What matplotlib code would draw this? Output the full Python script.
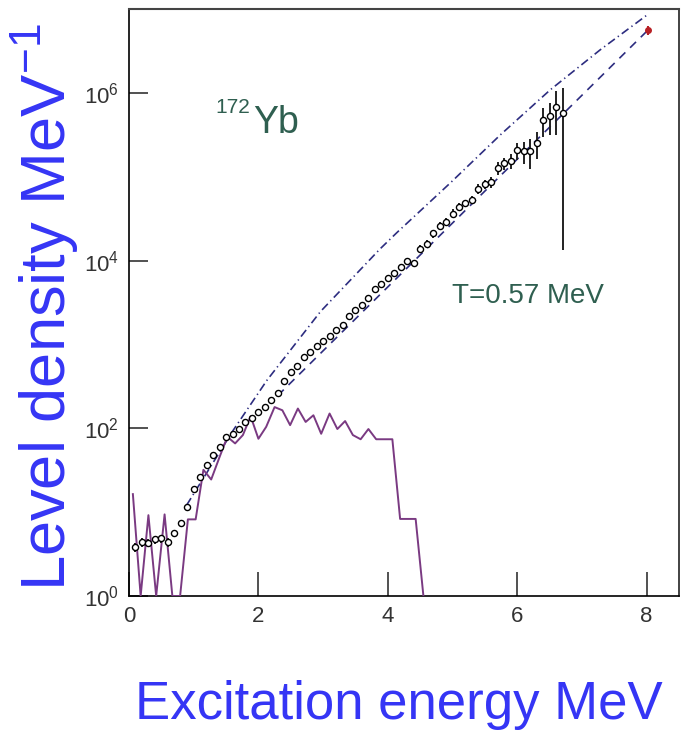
import numpy as np
import matplotlib
matplotlib.use("Agg")
import matplotlib.pyplot as plt
from matplotlib.ticker import NullLocator, FixedLocator, FixedFormatter

plt.rcParams['font.family'] = ['Liberation Sans', 'DejaVu Sans']
plt.rcParams['mathtext.fontset'] = 'custom'
plt.rcParams['mathtext.rm'] = 'Liberation Sans'
plt.rcParams['mathtext.it'] = 'Liberation Sans:italic'
plt.rcParams['mathtext.bf'] = 'Liberation Sans:bold'

# Oslo-method level density of 172Yb (MeV^-1)
energy = [0.1, 0.2, 0.3, 0.4, 0.5, 0.6, 0.7, 0.8, 0.9, 1.0,
          1.1, 1.2, 1.3, 1.4, 1.5, 1.6, 1.7, 1.8, 1.9, 2.0,
          2.1, 2.2, 2.3, 2.4, 2.5, 2.6, 2.7, 2.8, 2.9, 3.0,
          3.1, 3.2, 3.3, 3.4, 3.5, 3.6, 3.7, 3.8, 3.9, 4.0,
          4.1, 4.2, 4.3, 4.4, 4.5, 4.6, 4.7, 4.8, 4.9, 5.0,
          5.1, 5.2, 5.3, 5.4, 5.5, 5.6, 5.7, 5.8, 5.9, 6.0,
          6.1, 6.2, 6.3, 6.4, 6.5, 6.6, 6.7]
rho = [3.8, 4.36, 4.31, 4.73, 4.86, 4.4, 5.67, 7.33, 11.5, 18.8,
       26.1, 36.0, 48.6, 59.4, 78.8, 86.5, 98.0, 118.0, 134.0, 158.0,
       179.0, 215.0, 261.0, 366.0, 464.0, 558.0, 714.0, 810.0, 955.0, 1107.0,
       1245.0, 1480.0, 1683.0, 2154.0, 2541.0, 2913.0, 3559.0, 4603.0, 5323.0, 6277.0,
       7050.0, 8486.0, 10000.0, 9290.0, 13780.0, 15930.0, 21130.0, 26120.0, 29130.0, 36300.0,
       43970.0, 48110.0, 53230.0, 71940.0, 80990.0, 87100.0, 127000.0, 143900.0, 155000.0, 208000.0,
       202000.0, 200000.0, 254000.0, 477000.0, 537000.0, 681000.0, 583000.0]
rho_relerr = [0.12, 0.12, 0.12, 0.11, 0.11, 0.12, 0.09, 0.08, 0.07, 0.06,
              0.05, 0.05, 0.05, 0.05, 0.05, 0.05, 0.05, 0.05, 0.05, 0.05,
              0.05, 0.05, 0.05, 0.05, 0.05, 0.05, 0.05, 0.05, 0.05, 0.05,
              0.05, 0.05, 0.05, 0.05, 0.05, 0.05, 0.06, 0.06, 0.08, 0.08,
              0.08, 0.08, 0.08, 0.08, 0.10, 0.10, 0.11, 0.11, 0.12, 0.12,
              0.12, 0.10, 0.10, 0.13, 0.13, 0.15, 0.17, 0.16, 0.20, 0.23,
              0.30, 0.39, 0.36, 0.37, 0.42, 0.54, 0.977]

# discrete known levels, counted in 120 keV bins (MeV^-1)
level_energy = [0.06, 0.18, 0.30, 0.42, 0.55, 0.67, 0.79, 0.91, 1.03, 1.15,
                1.27, 1.40, 1.52, 1.64, 1.76, 1.88, 2.00, 2.12, 2.25, 2.37,
                2.49, 2.61, 2.73, 2.85, 2.97, 3.10, 3.22, 3.34, 3.46, 3.58,
                3.70, 3.82, 3.94, 4.07, 4.19, 4.31, 4.43, 4.55]
level_rho = [16.4, 0.0, 9.2, 0.0, 9.4, 0.0, 0.0, 8.2, 8.2, 32.0,
             24.5, 45.5, 79.0, 66.0, 83.0, 139.0, 75.0, 104.0, 179.0, 164.0,
             109.0, 172.0, 119.0, 143.0, 86.0, 150.0, 98.0, 122.0, 83.0, 74.0,
             98.0, 74.0, 74.0, 74.0, 8.3, 8.3, 8.3, 0.0]

# Fermi-gas type curve and constant-temperature curve
fg_energy = [0.89, 1.61, 2.13, 2.96, 3.88, 4.14, 4.97, 5.74, 6.51, 7.28, 8.00]
fg_rho = [12.1, 94.6, 372.0, 2470.0, 13770.0, 21550.0, 84900.0, 316000.0,
          1086000.0, 3250000.0, 8410000.0]
ct_energy = [2.30, 8.02]
ct_rho = [246.0, 5.6e6]

# density at the neutron separation energy
sn_energy = [8.02]
sn_rho = [5.6e6]
sn_err = [0.7e6]

ytick_vals = [1, 1e2, 1e4, 1e6]
ytick_text = [r'$10^{0}$', r'$10^{2}$', r'$10^{4}$', r'$10^{6}$']
xtick_vals = [0, 2, 4, 6, 8]
xtick_text = ['0', '2', '4', '6', '8']

W, H = 682, 730
fig = plt.figure(figsize=(W / 100, H / 100), dpi=100)
ax = fig.add_axes([129 / W, 1 - 596 / H, 550 / W, 587 / H])
ax.set_yscale('log')
ax.set_xlim(0, 8.5)
ax.set_ylim(1, 1e7)

line_col = '#2d2d80'
ax.plot(fg_energy, fg_rho, color=line_col, lw=1.2, ls=(0, (5, 2.2, 0.8, 2.2)), zorder=2)
ax.plot(ct_energy, ct_rho, color=line_col, lw=1.2, ls=(0, (5, 4)), zorder=2)

# empty bins are drawn on the axis floor
lvl = np.asarray(level_rho)
ax.plot(level_energy, np.where(lvl > 0, lvl, 1.0), color='#7a3a82', lw=1.4,
        zorder=3, clip_on=True)

r = np.asarray(rho)
ax.errorbar(energy, r, yerr=r * np.asarray(rho_relerr), fmt='o', ms=4.4,
            mfc='white', mec='black', mew=1.0, ecolor='#222222', elinewidth=1.4,
            capsize=0, zorder=4)

ax.errorbar(sn_energy, sn_rho, yerr=sn_err, fmt='o', ms=4, color='#b82025',
            elinewidth=1.5, capsize=0, zorder=5)

ax.xaxis.set_major_locator(FixedLocator(xtick_vals))
ax.xaxis.set_major_formatter(FixedFormatter(xtick_text))
ax.yaxis.set_major_locator(FixedLocator(ytick_vals))
ax.yaxis.set_major_formatter(FixedFormatter(ytick_text))
ax.xaxis.set_minor_locator(NullLocator())
ax.yaxis.set_minor_locator(NullLocator())
ax.tick_params(axis='x', direction='in', length=17.5, width=1.2, color='#333333',
               labelsize=16, labelcolor='#333333', pad=7)
ax.tick_params(axis='y', direction='in', length=13.7, width=1.2, color='#333333',
               labelsize=16, labelcolor='#333333', pad=7)

for side in ('left', 'bottom'):
    ax.spines[side].set_color('black')
    ax.spines[side].set_linewidth(1.2)
ax.spines['top'].set_color('#444444')
ax.spines['top'].set_linewidth(1.5)
ax.spines['right'].set_color('#222222')
ax.spines['right'].set_linewidth(1.2)

text_green = '#2f5f50'
fig.text(215 / W, 1 - 113 / H, '172', fontsize=15, color=text_green, va='baseline', ha='left')
fig.text(253 / W, 1 - 133 / H, 'Yb', fontsize=27, color=text_green, va='baseline', ha='left')
fig.text(452 / W, 1 - 303 / H, 'T=0.57 MeV', fontsize=20, color=text_green, va='baseline', ha='left')

label_blue = '#3535f5'
fig.text(399 / W, 1 - 719 / H, 'Excitation energy MeV', fontsize=38, color=label_blue,
         ha='center', va='baseline')
fig.text(45 / W, 1 - 307 / H, r'Level density MeV$^{-1}$', fontsize=45.5, color=label_blue,
         ha='center', va='center', rotation=90)

fig.savefig('out.png', dpi=100)
